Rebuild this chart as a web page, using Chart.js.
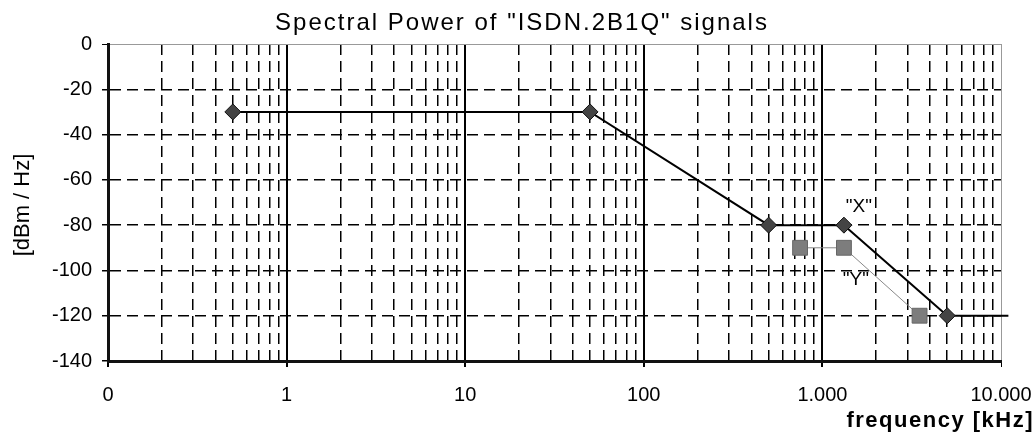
<!doctype html>
<html>
<head>
<meta charset="utf-8">
<title>Spectral Power</title>
<script src="https://cdn.jsdelivr.net/npm/chart.js@4/dist/chart.umd.min.js"></script>
<style>
  body { margin: 0; background: #fff; }
  #holder { width: 1035px; height: 437px; }
</style>
</head>
<body>
<div id="holder"><canvas id="chart"></canvas></div>
<script>
// data
var xDecades = [0.1, 1, 10, 100, 1000, 10000];
var xDecadeLabels = ['0', '1', '10', '100', '1.000', '10.000'];
var yTicks = [0, -20, -40, -60, -80, -100, -120, -140];

var freqX = [0.5, 50, 500, 1320, 5000, 11000];
var powerX = [-30, -30, -80, -80, -120, -120];
var freqY = [750, 1320, 3500];
var powerY = [-90, -90, -120];

var chartTitle = 'Spectral Power of "ISDN.2B1Q" signals';
var xTitle = 'frequency [kHz]';
var yTitle = '[dBm / Hz]';
var markLabels = ['"X"', '"Y"'];

var FONT = "'Liberation Sans', Arial, sans-serif";

function isDecade(v) {
  for (var i = 0; i < xDecades.length; i++) {
    if (Math.abs(v / xDecades[i] - 1) < 1e-6) return i;
  }
  return -1;
}

function toPoints(xs, ys) {
  return xs.map(function(x, i) { return { x: x, y: ys[i] }; });
}

var textPlugin = {
  id: 'texts',
  afterDraw: function(chart) {
    var ctx = chart.ctx;
    ctx.save();
    ctx.fillStyle = '#000';

    // chart title
    ctx.font = '24px ' + FONT;
    ctx.letterSpacing = '2px';
    ctx.textAlign = 'center';
    ctx.textBaseline = 'middle';
    ctx.fillText(chartTitle, 522, 23);

    // x axis title
    ctx.font = 'bold 22px ' + FONT;
    ctx.letterSpacing = '1.5px';
    ctx.textAlign = 'right';
    ctx.fillText(xTitle, 1034, 421);

    // y axis title
    ctx.letterSpacing = '0px';
    ctx.font = '22px ' + FONT;
    ctx.save();
    ctx.translate(23, 205);
    ctx.rotate(-Math.PI / 2);
    ctx.textAlign = 'center';
    ctx.fillText(yTitle, 0, 0);
    ctx.restore();

    // "X" and "Y" marks
    ctx.font = '19px ' + FONT;
    ctx.textAlign = 'center';
    var px = chart.getDatasetMeta(0).data[3];
    var py = chart.getDatasetMeta(1).data[1];
    ctx.fillText(markLabels[0], px.x + 15, px.y - 18);
    ctx.fillText(markLabels[1], py.x + 12, py.y + 32);
    ctx.restore();
  }
};

var config = {
  type: 'line',
  data: {
    datasets: [{
      label: 'X',
      data: toPoints(freqX, powerX),
      borderColor: '#000',
      borderWidth: 2,
      pointStyle: 'rectRot',
      pointRadius: function(c) { return c.dataIndex === freqX.length - 1 ? 0 : 8; },
      pointBackgroundColor: '#444',
      pointBorderColor: '#111',
      pointBorderWidth: 1,
      tension: 0,
      clip: false,
      order: 1
    }, {
      label: 'Y',
      data: toPoints(freqY, powerY),
      borderColor: '#888',
      borderWidth: 1,
      pointStyle: 'rect',
      pointRadius: 10.5,
      pointBackgroundColor: '#7d7d7d',
      pointBorderColor: '#666',
      pointBorderWidth: 1,
      tension: 0,
      order: 2
    }]
  },
  options: {
    responsive: true,
    maintainAspectRatio: false,
    animation: false,
    layout: { padding: { top: 44, right: 34, left: 0, bottom: 0 } },
    plugins: {
      legend: { display: false },
      title: { display: false },
      tooltip: { enabled: false }
    },
    scales: {
      x: {
        type: 'logarithmic',
        min: 0.1,
        max: 10000,
        afterBuildTicks: function(scale) {
          var t = [];
          for (var i = 0; i < xDecades.length - 1; i++) {
            for (var k = 1; k <= 9; k++) t.push({ value: xDecades[i] * k });
          }
          t.push({ value: xDecades[xDecades.length - 1] });
          scale.ticks = t;
        },
        afterFit: function(scale) {
          scale.height = 76;
          scale.paddingLeft = 0;
          scale.paddingRight = 0;
        },
        ticks: {
          autoSkip: false,
          maxRotation: 0,
          padding: 16,
          color: '#000',
          font: { family: FONT, size: 20 },
          callback: function(v) {
            var i = isDecade(v);
            return i >= 0 ? xDecadeLabels[i] : '';
          }
        },
        grid: {
          drawTicks: true,
          tickLength: 6,
          color: function(c) {
            if (!c.tick) return '#000';
            if (c.tick.value >= 10000) return '#999';
            return '#000';
          },
          lineWidth: function(c) {
            if (!c.tick) return 1.5;
            if (c.tick.value >= 10000) return 1;
            return isDecade(c.tick.value) >= 0 ? 2 : 1.5;
          },
          tickColor: function(c) {
            return c.tick && isDecade(c.tick.value) >= 0 ? '#000' : 'rgba(0,0,0,0)';
          }
        },
        border: {
          display: true,
          color: '#111',
          width: 3,
          dash: function(c) {
            if (!c.tick) return [];
            return isDecade(c.tick.value) >= 0 ? [] : [11, 6];
          }
        }
      },
      y: {
        min: -140,
        max: 0,
        afterBuildTicks: function(scale) {
          scale.ticks = yTicks.map(function(v) { return { value: v }; });
        },
        afterFit: function(scale) { scale.width = 108; },
        ticks: {
          padding: 10,
          color: '#000',
          font: { family: FONT, size: 20 },
          callback: function(v) { return String(v); }
        },
        grid: {
          drawTicks: true,
          tickLength: 6,
          color: function(c) {
            return c.tick && c.tick.value === 0 ? '#999' : '#000';
          },
          lineWidth: function(c) {
            return c.tick && c.tick.value === 0 ? 1 : 1.5;
          },
          tickColor: '#000'
        },
        border: {
          display: true,
          color: '#111',
          width: 3,
          dash: function(c) {
            if (!c.tick) return [];
            return (c.tick.value === 0 || c.tick.value === -140) ? [] : [11, 6];
          }
        }
      }
    }
  },
  plugins: [textPlugin]
};

window.onload = function() {
  var ctx = document.getElementById('chart').getContext('2d');
  window.myChart = new Chart(ctx, config);
};
</script>
</body>
</html>
